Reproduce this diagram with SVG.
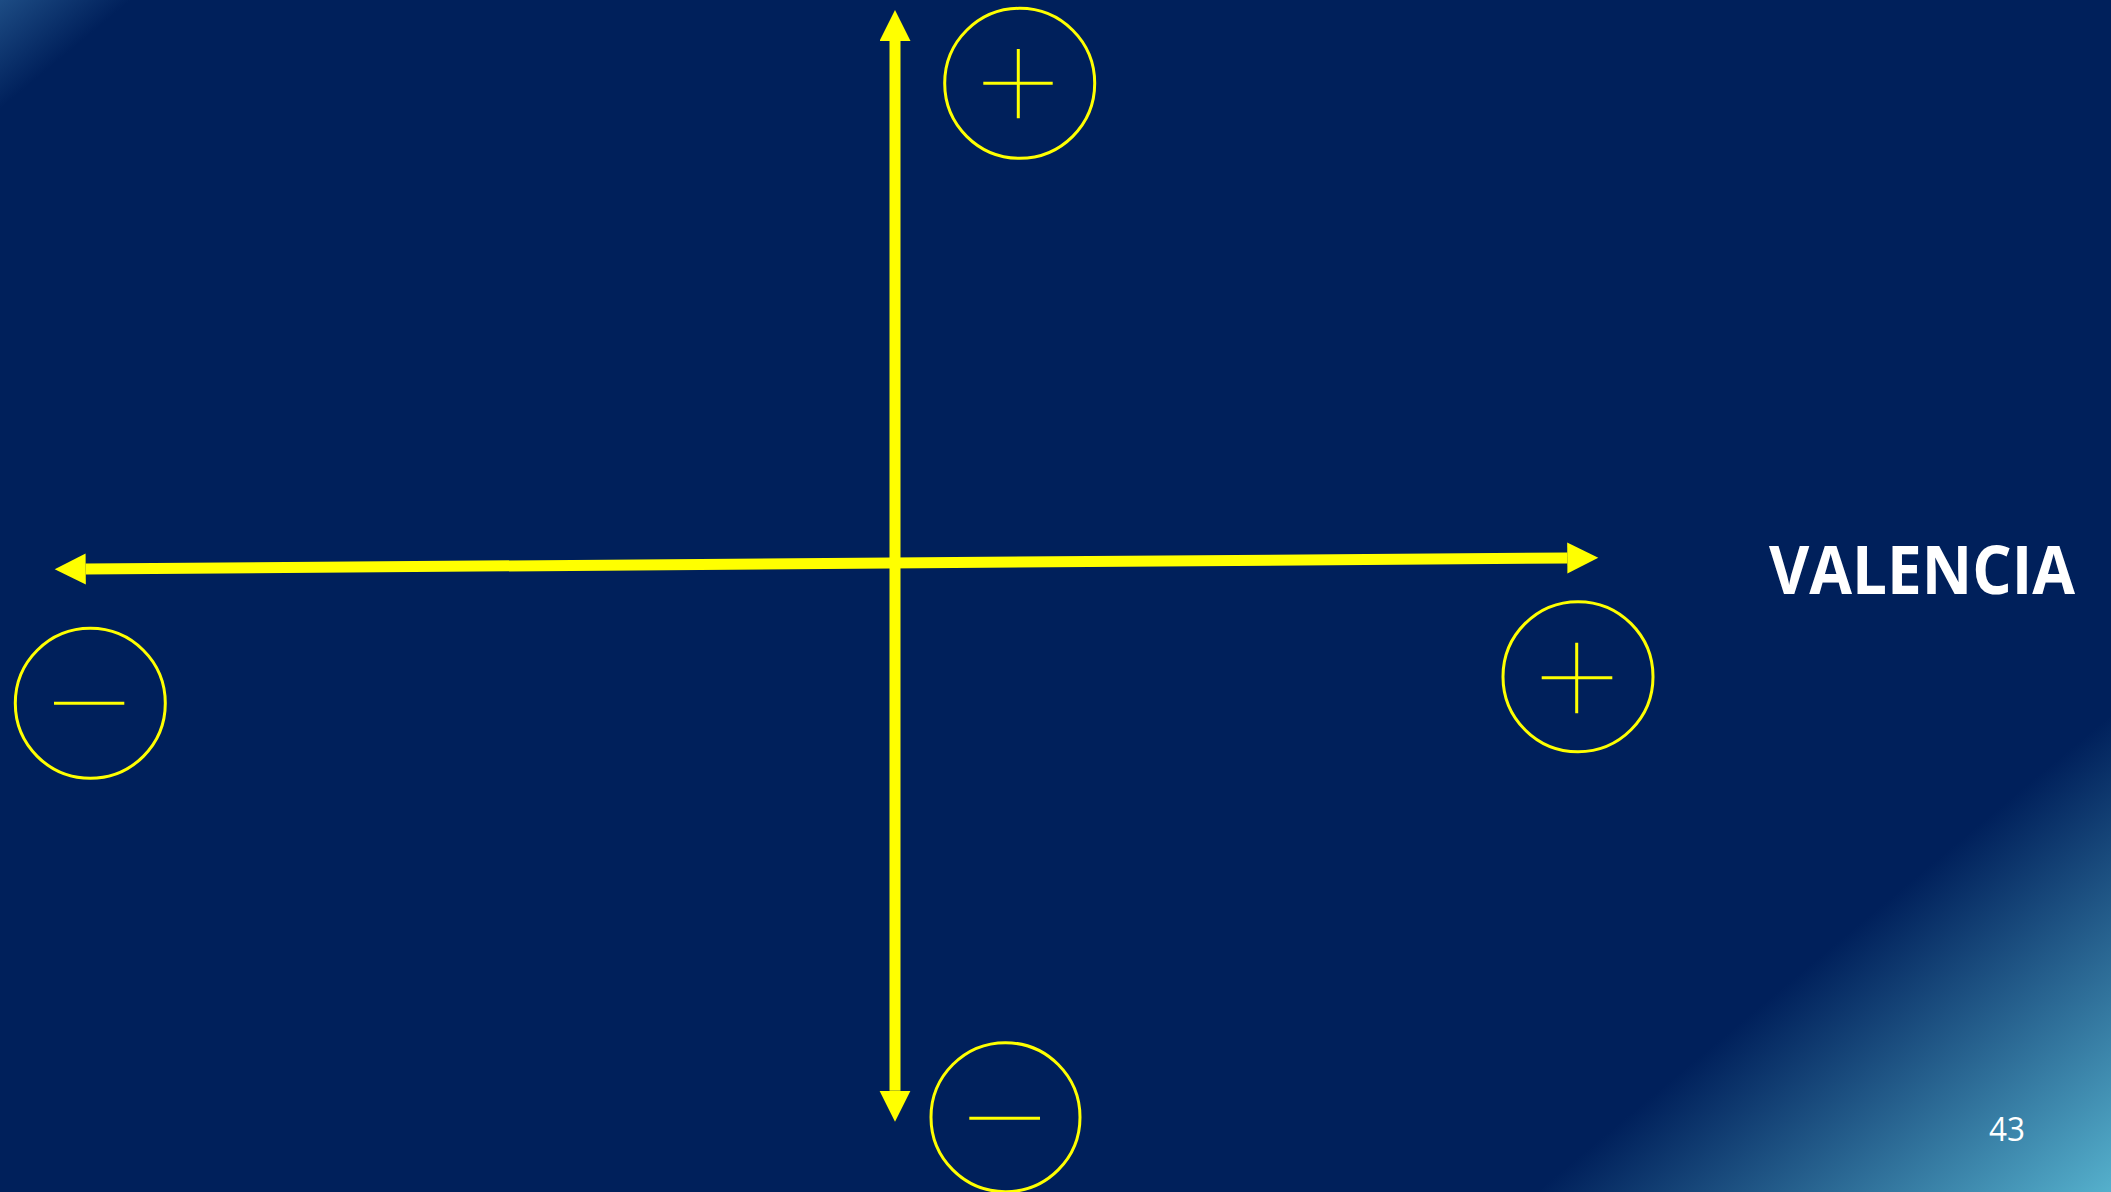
<svg xmlns="http://www.w3.org/2000/svg" width="2111" height="1192" viewBox="0 0 2111 1192">
  <defs>
    <linearGradient id="bg" gradientUnits="userSpaceOnUse" x1="0" y1="0" x2="1446.7" y2="1743.2">
      <stop offset="0" stop-color="#1D4C84"/>
      <stop offset="0.037" stop-color="#00205B"/>
      <stop offset="0.838" stop-color="#00205B"/>
      <stop offset="1" stop-color="#55B0CC"/>
    </linearGradient>
    <marker id="head" markerUnits="userSpaceOnUse" markerWidth="32" markerHeight="32" refX="0" refY="15.5" orient="auto-start-reverse" viewBox="0 0 32 32">
      <path d="M0,0 L31,15.5 L0,31 Z" fill="#FFFF00"/>
    </marker>
  </defs>
  <style>
    .axis { stroke: #FFFF00; stroke-width: 11; fill: none; marker-start: url(#head); marker-end: url(#head); }
    .ring { stroke: #FFFF00; stroke-width: 3; fill: none; }
    .sign { stroke: #FFFF00; stroke-width: 3; fill: none; }
    .title { font-family: "Open Sans", "Noto Sans", "Liberation Sans", sans-serif; font-weight: 700; fill: #FFFFFF; }
    .num { font-family: "Open Sans", "Noto Sans", "Liberation Sans", sans-serif; fill: #FFFFFF; }
  </style>
  <rect x="0" y="0" width="2111" height="1192" fill="url(#bg)"/>

  <g id="connectors">
    <path class="axis" d="M895,41 L895,1090.7"/>
    <path class="axis" d="M85.7,569.06 L1567.3,557.93"/>
  </g>

  <g id="top-plus">
    <circle class="ring" cx="1019.7" cy="83.3" r="75"/>
    <path class="sign" d="M983.3,83.3 H1052.7 M1018.3,49 V118.3"/>
  </g>
  <g id="left-minus">
    <circle class="ring" cx="90.3" cy="703.3" r="75"/>
    <path class="sign" d="M54,703.3 H124.3"/>
  </g>
  <g id="right-plus">
    <circle class="ring" cx="1578" cy="676.7" r="75"/>
    <path class="sign" d="M1541.7,677.7 H1612.3 M1576.7,642.7 V713.3"/>
  </g>
  <g id="bottom-minus">
    <circle class="ring" cx="1005.5" cy="1117.2" r="74.5"/>
    <path class="sign" d="M969.3,1118.3 H1040"/>
  </g>
  <g id="label-valencia">
    <text class="title" x="1769" y="594" font-size="66" textLength="306" lengthAdjust="spacingAndGlyphs">VALENCIA</text>
  </g>
  <g id="page-number">
    <text class="num" x="1989" y="1141" font-size="32" textLength="36" lengthAdjust="spacingAndGlyphs">43</text>
  </g>
</svg>
